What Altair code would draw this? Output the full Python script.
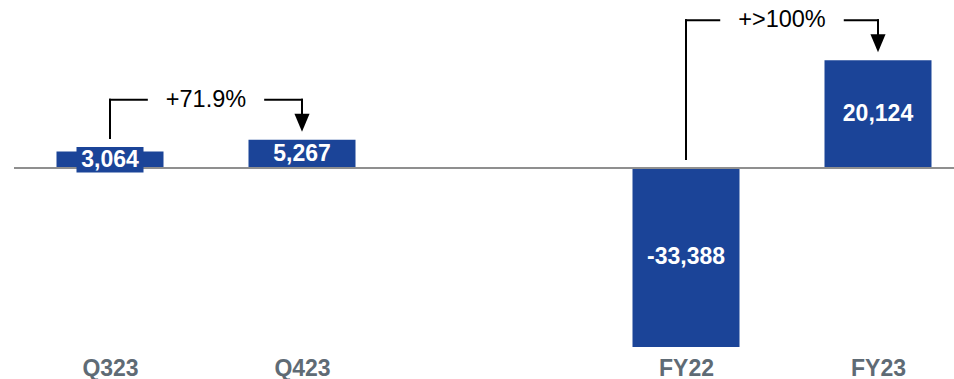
import altair as alt
import pandas as pd

# Reported result per period (thousands)
periods = ["Q323", "Q423", "FY22", "FY23"]
slots = [0, 1, 3, 4]          # slot 2 stays empty between quarters and years
values = [3064, 5267, -33388, 20124]

# Period-over-period change callouts
change_from = ["Q323", "FY22"]
change_to = ["Q423", "FY23"]
change_labels = ["+71.9%", "+>100%"]

BLUE = "#1B4498"
AXIS_GREY = "#8F8F8F"
LABEL_GREY = "#5F6B75"
FONT = "Liberation Sans"
FS = 23
FS_NOTE = 23.5

W, H = 940, 352
STEP = 192                                   # px per slot
X_DOMAIN = [-0.5, -0.5 + W / STEP]
Y_DOMAIN = [-34330, 31345]
UPP = (Y_DOMAIN[1] - Y_DOMAIN[0]) / H        # data units per pixel

BAR_W = 107
BOX_W, BOX_H = 67, 25.5                      # backing box for labels on short bars

df = pd.DataFrame({"period": periods, "slot": slots, "value": values})
df["mid"] = df["value"] / 2
df["label"] = df["value"].map(lambda v: f"{v:,}")
df["boxed"] = df["value"].abs() / UPP < BOX_H

# Approximate Arial advance widths (em) for sizing the gap around callout text
ADV = {"+": 0.584, ">": 0.584, "%": 0.889, ".": 0.278}


def text_px(s):
    return sum(ADV.get(c, 0.556) for c in s) * FS_NOTE


def visual_top(row):
    top = max(row.value, 0)
    if row.boxed:
        top = max(top, row.mid + BOX_H / 2 * UPP)
    return top


segs, heads, notes = [], [], []
lookup = df.set_index("period")
for a, b, lab in zip(change_from, change_to, change_labels):
    ra, rb = lookup.loc[a], lookup.loc[b]
    ta, tb = visual_top(ra), visual_top(rb)
    level = max(ta, tb) + 40 * UPP
    xa, xb = ra.slot, rb.slot
    xc = (xa + xb) / 2
    half_gap = (text_px(lab) / 2 + 19) / STEP
    tip = tb + 8 * UPP
    head_h = 18
    segs += [
        {"x": xa, "x2": xa, "y": ta + 9 * UPP, "y2": level},
        {"x": xa, "x2": xc - half_gap, "y": level, "y2": level},
        {"x": xc + half_gap, "x2": xb, "y": level, "y2": level},
        {"x": xb, "x2": xb, "y": level, "y2": tip + (head_h - 1) * UPP},
    ]
    heads.append({"x": xb, "y": tip + head_h / 2 * UPP})
    notes.append({"x": xc, "y": level, "text": lab})

segs = pd.DataFrame(segs)
heads = pd.DataFrame(heads)
notes = pd.DataFrame(notes)

xs = alt.Scale(domain=X_DOMAIN, nice=False, zero=False, padding=0)
ys = alt.Scale(domain=Y_DOMAIN, nice=False, zero=False, padding=0)

label_expr = " : ".join(
    f"datum.value == {s} ? '{p}'" for s, p in zip(slots, periods)
) + " : ''"

x_axis = alt.Axis(
    values=slots, labelExpr=label_expr, title=None, domain=False, ticks=False,
    grid=False, labelFont=FONT, labelFontSize=FS, labelFontWeight="bold",
    labelColor=LABEL_GREY, labelPadding=23, labelBaseline="alphabetic",
)

base = alt.Chart(df)

bars = base.mark_bar(size=BAR_W, color=BLUE).encode(
    x=alt.X("slot:Q", scale=xs, axis=x_axis),
    y=alt.Y("value:Q", scale=ys, axis=None),
)

zero = alt.Chart(pd.DataFrame({"z": [0]})).mark_rule(
    color=AXIS_GREY, strokeWidth=2
).encode(y=alt.Y("z:Q", scale=ys, axis=None))

boxes = base.transform_filter("datum.boxed").mark_tick(
    color=BLUE, size=BOX_W, thickness=BOX_H, orient="horizontal", opacity=1
).encode(
    x=alt.X("slot:Q", scale=xs),
    y=alt.Y("mid:Q", scale=ys),
)

value_text = base.mark_text(
    color="white", font=FONT, fontSize=FS, fontWeight="bold",
    baseline="middle", align="center",
).encode(
    x=alt.X("slot:Q", scale=xs),
    y=alt.Y("mid:Q", scale=ys),
    text="label:N",
)

lines = alt.Chart(segs).mark_rule(
    color="black", strokeWidth=2, strokeCap="square"
).encode(
    x=alt.X("x:Q", scale=xs), x2="x2:Q",
    y=alt.Y("y:Q", scale=ys), y2="y2:Q",
)

# custom symbol paths are scaled by sqrt(size)/2
arrowheads = alt.Chart(heads).mark_point(
    shape="M-0.84,-1L0.84,-1L0,1Z", filled=True, color="black",
    opacity=1, size=324, strokeWidth=0,
).encode(
    x=alt.X("x:Q", scale=xs),
    y=alt.Y("y:Q", scale=ys),
)

note_text = alt.Chart(notes).mark_text(
    color="black", font=FONT, fontSize=FS_NOTE, baseline="middle", align="center",
).encode(
    x=alt.X("x:Q", scale=xs),
    y=alt.Y("y:Q", scale=ys),
    text="text:N",
)

chart = alt.layer(
    bars, zero, boxes, value_text, lines, arrowheads, note_text
).properties(
    width=W, height=H,
    autosize=alt.AutoSizeParams(type="none"),
    padding={"left": 14, "top": 0, "right": 0, "bottom": 27},
    background="white",
).configure_view(stroke=None)

chart.save("out.html", embed_options={"renderer": "svg", "actions": False})
